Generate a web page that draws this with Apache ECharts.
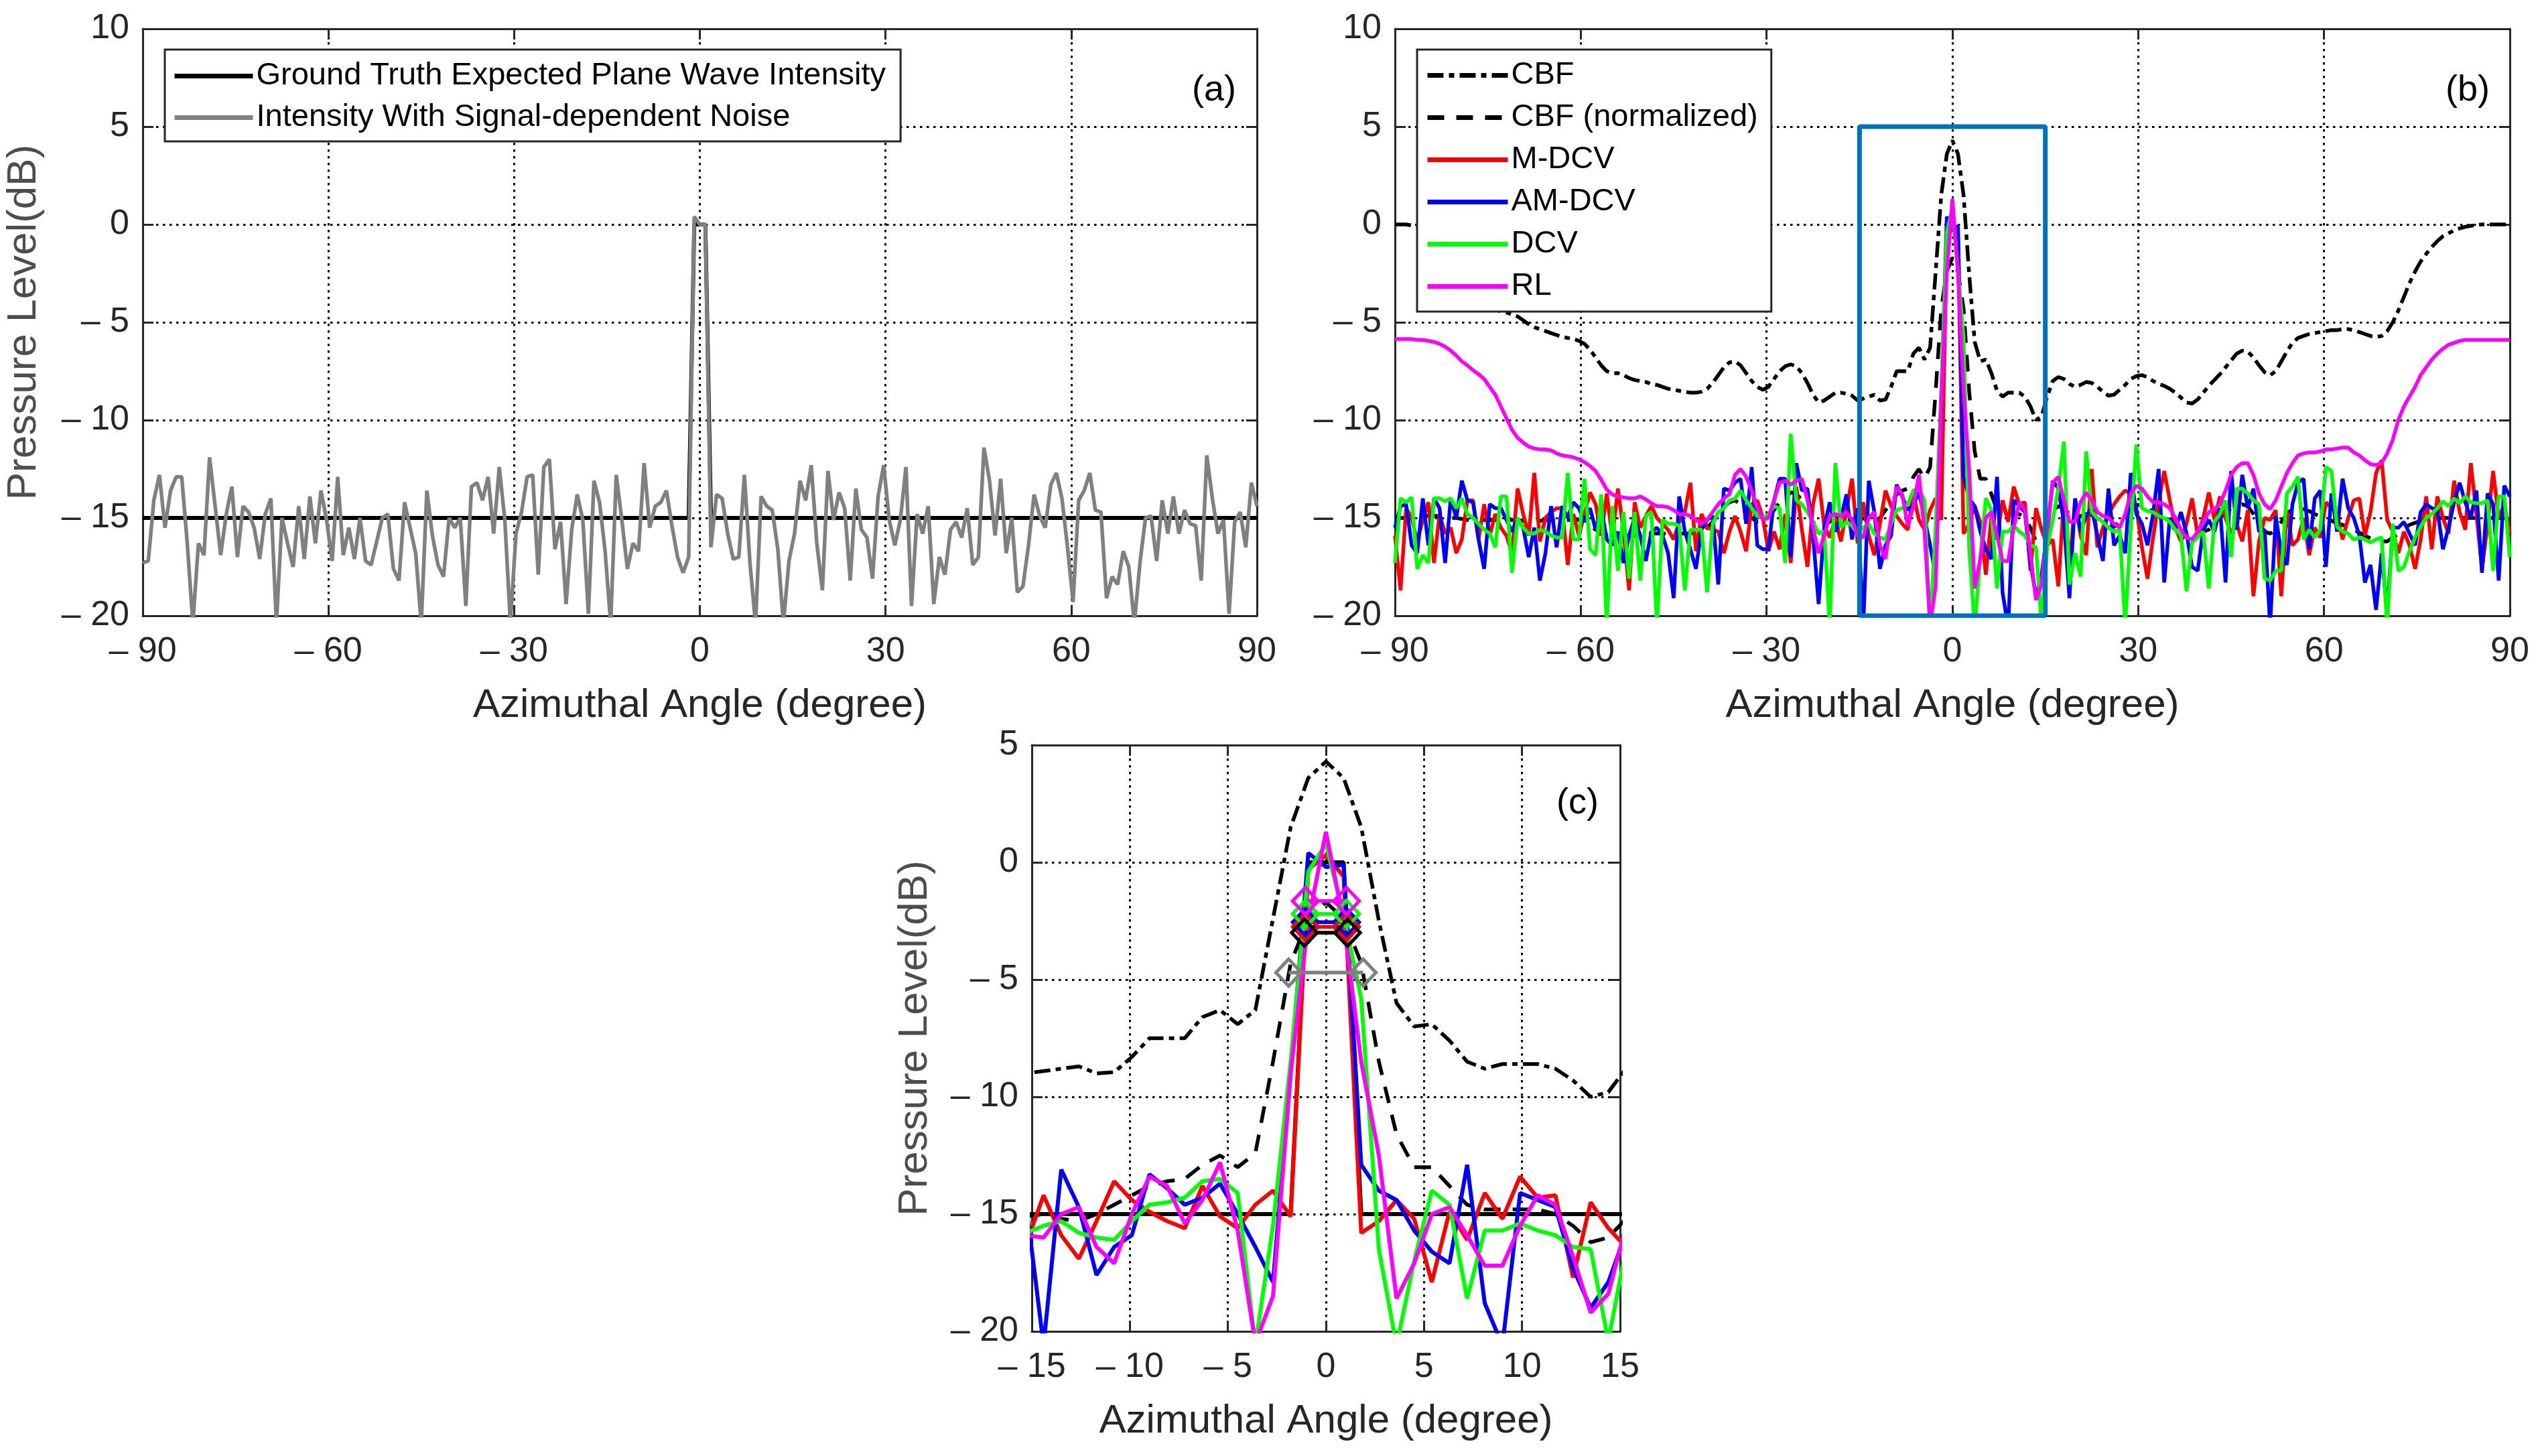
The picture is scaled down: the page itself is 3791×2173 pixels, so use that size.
<!DOCTYPE html>
<html>
<head>
<meta charset="utf-8">
<script src="https://cdn.jsdelivr.net/npm/echarts@6/dist/echarts.min.js"></script>
<style>
  html, body { margin: 0; padding: 0; background: #fff; }
  #main { width: 3791px; height: 2173px; }
</style>
</head>
<body>
<div id="main"></div>
<script>
// azimuth grid used by every series: -90 .. 90 in 0.9 degree steps (201 samples)
var angles = [];
for (var k = 0; k <= 200; k++) angles.push(+(-90 + 0.9 * k).toFixed(1));

// ground truth: -15 dB floor, 0 dB plane wave at broadside
var truthAngles = [-90, -1.8, -0.9, 0, 0.9, 1.8, 90];
var truthLevel = [-15, -15, 0, 0, 0, -15, -15];

// (a) intensity with signal-dependent noise
var noisyLevel = [
  -17.3, -17.2, -14.1, -12.8, -15.5, -13.6, -12.9, -12.9, -16.3, -20.4,
  -16.3, -16.9, -11.9, -14.4, -16.9, -14.8, -13.4, -17.0, -14.4, -14.7,
  -15.5, -17.1, -14.8, -14.0, -20.4, -15.0, -16.3, -17.5, -14.4, -17.1,
  -13.9, -16.3, -13.6, -15.1, -17.2, -12.9, -16.9, -15.5, -17.1, -15.0,
  -17.2, -17.4, -16.2, -15.0, -14.8, -17.6, -18.2, -14.2, -15.5, -16.8,
  -20.4, -13.6, -15.9, -17.4, -18.0, -15.0, -15.5, -15.0, -19.5, -13.4,
  -13.2, -14.1, -12.9, -15.8, -12.4, -15.1, -20.4, -15.8, -14.7, -12.9,
  -12.8, -17.9, -12.4, -12.0, -16.6, -15.2, -19.4, -15.6, -13.8, -15.1,
  -19.9, -13.1, -14.2, -16.7, -20.4, -12.8, -15.1, -17.6, -16.3, -16.7,
  -12.2, -15.5, -14.4, -14.2, -13.6, -15.4, -17.0, -17.8, -17.0, 0.4,
  0.0, 0.0, -16.5, -13.8, -14.0, -15.8, -17.1, -17.0, -12.8, -17.3,
  -20.4, -13.9, -14.4, -14.6, -16.6, -20.4, -17.2, -15.8, -13.1, -14.1,
  -12.3, -16.3, -18.7, -12.6, -15.1, -13.7, -14.5, -18.2, -13.5, -15.6,
  -16.0, -18.1, -13.9, -12.3, -15.1, -16.4, -15.1, -12.4, -19.5, -14.8,
  -15.8, -14.4, -19.4, -17.0, -17.9, -15.6, -15.2, -16.0, -14.5, -17.4,
  -17.0, -11.4, -13.1, -15.9, -13.0, -16.8, -15.0, -18.8, -18.5, -16.4,
  -13.8, -14.9, -15.5, -13.3, -12.7, -14.0, -16.5, -19.3, -14.1, -13.6,
  -12.7, -14.6, -14.7, -19.1, -18.0, -18.4, -16.7, -17.5, -20.4, -17.3,
  -15.0, -14.9, -17.2, -14.1, -15.8, -13.9, -15.8, -14.6, -15.3, -15.4,
  -18.2, -11.8, -14.0, -15.8, -15.1, -19.9, -15.2, -14.7, -16.5, -13.2,
  -14.4
];

// (b)/(c) conventional beamforming
var cbf = [
  0.0, 0.0, 0.0, -0.05, -0.1, -0.2, -0.35, -0.55, -0.8, -1.1,
  -1.5, -1.9, -2.4, -2.9, -3.3, -3.7, -4.0, -4.2, -4.35, -4.45,
  -4.5, -4.6, -4.7, -4.9, -5.1, -5.25, -5.35, -5.45, -5.55, -5.65,
  -5.75, -5.8, -5.85, -5.95, -6.1, -6.4, -6.8, -7.2, -7.5, -7.6,
  -7.6, -7.7, -7.85, -7.95, -8.0, -8.05, -8.15, -8.2, -8.3, -8.4,
  -8.45, -8.5, -8.55, -8.6, -8.6, -8.55, -8.4, -8.1, -7.7, -7.3,
  -7.05, -7.0, -7.2, -7.6, -8.0, -8.3, -8.45, -8.3, -7.9, -7.5,
  -7.25, -7.15, -7.25, -7.6, -8.1, -8.7, -9.1, -9.0, -8.8, -8.6,
  -8.6, -8.65, -8.75, -9.0, -8.9, -8.8, -8.7, -9.0, -8.95, -8.3,
  -7.5, -7.5, -7.5, -6.6, -6.3, -6.9, -6.3, -2.4, 1.5, 3.6,
  4.3, 3.6, 1.5, -2.5, -6.0, -7.0, -6.9, -7.6, -8.5, -8.8,
  -8.6, -8.6, -8.6, -8.8, -9.3, -10.0, -9.8, -8.8, -8.0, -7.8,
  -7.9, -8.15, -8.3, -8.2, -8.05, -8.1, -8.3, -8.55, -8.75, -8.7,
  -8.45, -8.2, -7.9, -7.75, -7.7, -7.8, -8.0, -8.15, -8.25, -8.4,
  -8.6, -8.85, -9.1, -9.15, -8.95, -8.6, -8.25, -7.95, -7.65, -7.3,
  -6.95, -6.6, -6.45, -6.5, -6.8, -7.2, -7.55, -7.7, -7.5, -7.0,
  -6.5, -6.05, -5.8, -5.7, -5.6, -5.55, -5.5, -5.45, -5.4, -5.4,
  -5.35, -5.35, -5.4, -5.5, -5.6, -5.7, -5.75, -5.7, -5.45, -5.0,
  -4.4, -3.7, -3.0, -2.4, -1.9, -1.5, -1.15, -0.85, -0.6, -0.45,
  -0.3, -0.2, -0.12, -0.07, -0.03, 0.0, 0.0, 0.0, 0.0, 0.0,
  0.0
];

var cbfNormalized = [
  -15.0, -15.0, -15.0, -15.0, -14.95, -14.9, -14.9, -14.9, -14.9, -14.95,
  -15.0, -15.0, -15.05, -15.1, -15.1, -15.1, -15.1, -15.1, -15.1, -15.1,
  -15.1, -15.1, -15.1, -15.15, -15.2, -15.2, -15.15, -15.1, -15.1, -15.1,
  -15.1, -15.1, -15.1, -15.1, -15.2, -15.4, -15.6, -15.8, -15.9, -15.9,
  -15.9, -15.9, -15.9, -15.9, -15.85, -15.8, -15.8, -15.8, -15.8, -15.8,
  -15.8, -15.8, -15.8, -15.8, -15.75, -15.7, -15.5, -15.2, -14.8, -14.4,
  -14.2, -14.1, -14.3, -14.7, -15.0, -15.2, -15.2, -15.0, -14.6, -14.2,
  -13.9, -13.7, -13.75, -14.1, -14.6, -15.2, -15.5, -15.4, -15.2, -15.0,
  -15.0, -15.0, -15.05, -15.1, -15.0, -15.2, -15.3, -15.0, -14.6, -14.2,
  -13.8, -13.6, -13.5, -12.9, -12.5, -13.0, -12.4, -8.5, -4.3, -2.4,
  -1.7, -2.4, -4.3, -8.5, -11.6, -13.0, -13.0, -13.8, -14.6, -14.8,
  -14.8, -14.8, -14.8, -15.0, -15.5, -16.2, -16.0, -15.2, -14.6, -14.4,
  -14.5, -14.8, -15.0, -14.9, -14.8, -14.85, -15.0, -15.3, -15.5, -15.45,
  -15.2, -14.9, -14.6, -14.35, -14.3, -14.45, -14.7, -14.9, -15.1, -15.3,
  -15.6, -15.9, -16.1, -16.1, -15.95, -15.7, -15.6, -15.3, -15.0, -14.75,
  -14.5, -14.35, -14.3, -14.4, -14.8, -15.3, -15.7, -15.8, -15.6, -15.2,
  -14.8, -14.55, -14.5, -14.55, -14.65, -14.8, -14.95, -15.05, -15.15, -15.25,
  -15.35, -15.5, -15.6, -15.75, -15.9, -16.05, -16.15, -16.2, -16.2, -16.0,
  -15.8, -15.55, -15.35, -15.25, -15.15, -15.1, -15.05, -15.0, -15.0, -15.0,
  -15.0, -15.0, -15.0, -15.0, -15.0, -15.0, -15.0, -15.0, -15.0, -15.0,
  -15.0
];

var mdcv = [
  -15.9, -18.7, -14.5, -15.0, -16.2, -15.1, -14.2, -17.3, -14.8, -15.8,
  -15.5, -16.8, -16.1, -14.1, -14.1, -16.1, -14.3, -15.9, -14.8, -15.5,
  -15.9, -16.8, -13.5, -14.8, -15.9, -12.7, -16.2, -15.0, -14.7, -14.5,
  -14.5, -17.4, -14.8, -15.9, -14.8, -13.7, -14.3, -15.9, -13.75, -16.0,
  -13.5, -15.7, -18.7, -14.2, -15.5, -14.9, -14.4, -15.0, -15.3, -15.6,
  -16.1, -15.2, -14.7, -13.2, -16.7, -14.8, -15.5, -15.6, -15.7, -16.8,
  -15.7, -14.9, -15.7, -16.7, -14.3, -14.1, -15.0, -16.7, -15.7, -16.6,
  -14.8, -17.3, -13.4, -15.6, -17.5, -14.3, -13.0, -15.4, -16.0, -15.0,
  -16.2, -14.6, -13.0, -16.3, -14.2, -15.9, -16.9, -15.3, -13.6, -14.4,
  -14.9, -15.3, -15.6, -13.8, -15.1, -15.6, -14.6, -14.0, -15.1, -0.3,
  0.3, -0.6, -15.8, -15.3, -14.4, -15.2, -17.9, -14.9, -16.1, -14.1,
  -15.2, -13.4, -14.3, -14.2, -17.7, -14.5, -15.6, -16.4, -16.1, -18.5,
  -14.0, -17.5, -14.1, -15.9, -16.9, -12.5, -16.5, -15.5, -14.8, -14.3,
  -13.9, -13.6, -13.75, -14.5, -16.5, -18.1, -16.0, -14.2, -12.6, -14.1,
  -15.5, -16.2, -15.3, -14.0, -15.9, -15.0, -13.7, -15.1, -13.9, -15.0,
  -15.8, -15.3, -16.2, -14.6, -19.0, -16.2, -15.0, -15.1, -14.6, -19.0,
  -14.6, -16.4, -16.1, -15.0, -16.9, -15.5, -16.0, -14.2, -14.5, -14.8,
  -16.1, -15.0, -14.1, -14.0, -15.9, -14.7, -12.7, -12.05, -15.1, -15.7,
  -16.8, -15.7, -16.4, -17.6, -16.1, -13.9, -16.6, -13.9, -15.0, -15.8,
  -13.1, -14.7, -15.6, -12.2, -14.8, -17.6, -15.4, -12.6, -15.0, -14.3,
  -15.8
];

var amdcv = [
  -15.5, -14.4, -14.3, -16.4, -16.8, -14.0, -16.4, -14.0, -14.5, -17.3,
  -14.0, -15.0, -13.1, -14.1, -14.2, -16.1, -17.6, -14.3, -14.5, -14.5,
  -15.1, -15.7, -15.0, -15.5, -17.0, -15.5, -18.2, -16.8, -14.4, -16.5,
  -14.4, -15.0, -14.2, -14.5, -15.2, -14.5, -15.6, -14.5, -16.1, -16.4,
  -15.7, -17.3, -15.9, -15.0, -15.9, -17.2, -15.7, -15.5, -15.9, -16.8,
  -19.1, -13.9, -15.7, -16.6, -17.6, -15.6, -15.1, -14.9, -18.4, -13.5,
  -13.6, -13.2, -13.0, -15.3, -12.4, -16.4, -16.6, -16.6, -14.1, -13.0,
  -13.0, -17.0, -12.2, -13.6, -13.5, -15.9, -19.4, -15.5, -14.2, -15.7,
  -15.0, -13.8, -16.1, -14.5, -20.6, -13.1, -14.7, -17.6, -16.4, -15.9,
  -13.3, -13.9, -14.6, -14.3, -13.7, -15.0, -16.4, -17.9, -9.0, 0.4,
  -0.2, -0.1, -12.9, -14.0, -14.4, -15.7, -16.6, -17.1, -12.9, -18.8,
  -20.6, -14.1, -14.4, -14.7, -17.3, -19.0, -17.9, -15.8, -13.1, -13.5,
  -15.2, -19.1, -14.0, -15.7, -14.9, -14.5, -15.9, -17.2, -13.5, -16.4,
  -15.9, -16.8, -12.7, -14.8, -15.3, -16.4, -14.8, -12.5, -18.3, -15.0,
  -15.6, -14.7, -15.8, -17.5, -17.7, -15.6, -15.1, -15.7, -14.5, -18.3,
  -12.6, -15.6, -12.8, -14.5, -13.5, -15.7, -15.6, -20.5, -14.9, -16.8,
  -17.4, -14.3, -13.2, -13.0, -16.6, -14.0, -13.6, -17.5, -13.75, -15.7,
  -13.0, -14.5, -15.0, -15.9, -18.3, -17.4, -19.7, -16.8, -19.8, -15.5,
  -15.5, -15.2, -15.8, -16.4, -14.7, -14.3, -14.5, -14.6, -16.6, -15.5,
  -14.2, -13.2, -14.2, -15.0, -13.6, -17.8, -13.75, -14.3, -18.2, -13.35,
  -13.9
];

var dcv = [
  -17.3, -14.0, -14.2, -13.95, -17.6, -16.9, -17.3, -14.0, -14.0, -14.15,
  -14.0, -14.5, -14.0, -14.8, -15.0, -15.3, -15.6, -15.8, -16.5, -13.9,
  -13.9, -17.8, -15.0, -15.5, -15.8, -15.8, -15.6, -15.7, -15.9, -16.0,
  -16.0, -12.7, -16.1, -16.1, -13.0, -16.6, -16.9, -13.8, -20.5, -14.4,
  -17.7, -14.7, -18.1, -14.7, -18.2, -14.9, -14.7, -20.5, -15.1, -15.3,
  -15.3, -15.4, -18.7, -15.6, -15.6, -15.6, -18.8, -15.3, -14.7, -14.5,
  -14.1, -14.0, -13.6, -14.1, -14.5, -14.9, -15.0, -14.8, -14.4, -14.5,
  -17.3, -10.7, -14.1, -14.3, -14.7, -15.2, -15.8, -15.7, -20.5, -12.2,
  -15.5, -15.2, -15.4, -15.8, -15.5, -15.3, -15.8, -16.0, -16.1, -15.3,
  -14.6, -14.5, -14.3, -13.6, -13.5, -14.1, -20.6, -15.5, -8.5, -0.4,
  0.8, -2.3, -5.8, -16.5, -20.6, -17.0, -14.0, -14.6, -18.6, -15.7,
  -15.7, -15.4, -15.7, -15.9, -16.4, -16.5, -20.4, -16.5, -15.1, -13.5,
  -11.1, -18.4, -16.8, -18.0, -11.6, -14.7, -15.0, -15.2, -15.5, -15.7,
  -15.6, -20.5, -15.5, -11.25, -14.5, -14.65, -14.7, -14.9, -15.0, -15.2,
  -15.6, -15.9, -18.75, -16.25, -16.0, -15.7, -18.6, -15.2, -14.8, -14.1,
  -17.0, -13.5, -13.5, -13.75, -14.1, -14.3, -18.1, -18.2, -17.7, -17.7,
  -13.75, -13.4, -12.9, -16.1, -15.6, -16.0, -15.6, -12.4, -12.6, -15.45,
  -15.7, -15.8, -16.1, -16.0, -16.1, -16.25, -16.1, -16.0, -20.5, -15.3,
  -17.7, -17.5, -16.7, -16.0, -15.45, -15.0, -14.8, -14.5, -14.15, -14.4,
  -14.0, -14.25, -13.9, -14.2, -14.25, -14.25, -14.1, -17.7, -13.9, -13.9,
  -17.0
];

var rl = [
  -5.86, -5.86, -5.86, -5.86, -5.9, -5.9, -5.95, -6.0, -6.1, -6.25,
  -6.45, -6.7, -7.0, -7.2, -7.45, -7.65, -7.9, -8.3, -8.7, -9.3,
  -9.9, -10.5, -10.9, -11.15, -11.35, -11.45, -11.5, -11.5, -11.55, -11.7,
  -11.8, -11.85, -11.9, -12.0, -12.15, -12.35, -12.6, -13.05, -13.55, -13.8,
  -13.9, -13.95, -14.0, -14.0, -13.9, -14.05, -14.25, -14.4, -14.4, -14.45,
  -14.6, -14.8, -14.8, -14.9, -15.1, -15.3, -15.1, -14.7, -14.3, -14.0,
  -13.8, -12.8, -12.5, -12.9, -13.6, -14.5, -15.1, -15.0, -14.1, -13.2,
  -13.1, -13.3, -13.1, -13.0, -14.1, -15.5, -16.8, -15.9, -14.9, -14.8,
  -14.9, -14.7, -15.1, -15.9, -16.0, -15.0, -14.7, -16.4, -17.1, -15.0,
  -13.4, -13.8, -15.4, -14.4, -12.8, -15.7, -20.5, -18.5, -9.0, -2.5,
  1.3, -2.5, -8.5, -12.5, -18.6, -17.1, -15.0, -14.7, -15.9, -17.2,
  -17.2, -15.5, -14.2, -14.6, -16.8, -19.2, -18.4, -15.5, -13.2, -12.9,
  -14.1, -15.2, -15.2, -14.2, -13.7, -14.1, -14.7, -14.9, -15.0, -15.3,
  -15.5, -14.8, -13.75, -13.35, -13.5, -13.9, -14.2, -14.2, -14.3, -14.5,
  -15.0, -15.6, -16.0, -16.1, -15.7, -15.2, -14.7, -14.55, -14.3, -13.6,
  -12.8, -12.4, -12.2, -12.2, -12.8, -13.75, -14.3, -14.55, -14.1, -13.4,
  -12.7, -12.2, -11.8, -11.7, -11.65, -11.65, -11.6, -11.5, -11.5, -11.45,
  -11.4, -11.4, -11.65, -11.8, -12.05, -12.25, -12.3, -12.2, -11.7, -11.0,
  -10.0, -9.3, -8.8, -8.3, -7.7, -7.3, -6.9, -6.6, -6.35, -6.15,
  -6.05, -5.95, -5.9, -5.9, -5.9, -5.9, -5.9, -5.9, -5.9, -5.9,
  -5.9
];

// zoom window drawn in (b)
var boxAngles = [-15, -15, 15, 15, -15];
var boxLevels = [-20, 5, 5, -20, -20];

// (c) -3 dB width markers
var fwhmCbf = [[-1.9, -4.7], [1.9, -4.7]];
var fwhmAmdcv = [[-1.05, -2.55], [1.05, -2.55]];
var fwhmMdcv = [[-1.05, -2.75], [1.05, -2.75]];
var fwhmDcv = [[-1.05, -2.2], [1.05, -2.2]];
var fwhmRl = [[-1.05, -1.65], [1.05, -1.65]];
var fwhmTruth = [[-1.1, -3.0], [1.1, -3.0]];

var FONT = '"Liberation Sans", Arial, Helvetica, sans-serif';
var INK = '#262626';

function zip(xs, ys) {
  return xs.map(function (x, i) { return [x, ys[i]]; });
}

function tickText(v) {
  return v < 0 ? '\u2013 ' + (-v) : String(v);
}

function xAxes(gi, min, max, step, withName) {
  var base = {
    gridIndex: gi, type: 'value', min: min, max: max, interval: step,
    axisLine: { show: true, onZero: false, lineStyle: { color: INK, width: 3 } },
    axisTick: { show: true, inside: true, length: 16, lineStyle: { color: INK, width: 3 } }
  };
  var bottom = Object.assign({}, base, {
    position: 'bottom',
    name: withName ? 'Azimuthal Angle (degree)' : '',
    nameLocation: 'middle', nameGap: 104,
    nameTextStyle: { fontFamily: FONT, fontSize: 60, lineHeight: 60, color: INK },
    axisLabel: { margin: 28, fontFamily: FONT, fontSize: 52, color: INK, formatter: tickText },
    splitLine: { show: true, lineStyle: { color: '#000', width: 3, type: [3.5, 6.5] } }
  });
  var top = Object.assign({}, base, {
    position: 'top', axisLabel: { show: false }, splitLine: { show: false }
  });
  return [bottom, top];
}

function yAxes(gi, min, max, step, name, gap) {
  var base = {
    gridIndex: gi, type: 'value', min: min, max: max, interval: step,
    axisLine: { show: true, onZero: false, lineStyle: { color: INK, width: 3 } },
    axisTick: { show: true, inside: true, length: 16, lineStyle: { color: INK, width: 3 } }
  };
  var left = Object.assign({}, base, {
    position: 'left',
    name: name, nameLocation: 'middle', nameGap: gap,
    nameTextStyle: { fontFamily: FONT, fontSize: 62, lineHeight: 62, color: '#4d4d4d' },
    axisLabel: { margin: 20, fontFamily: FONT, fontSize: 52, color: INK, formatter: tickText },
    splitLine: { show: true, lineStyle: { color: '#000', width: 3, type: [3.5, 6.5] } }
  });
  var right = Object.assign({}, base, {
    position: 'right', axisLabel: { show: false }, splitLine: { show: false }
  });
  return [left, right];
}

function line(name, xi, yi, data, color, width, dash, z) {
  return {
    name: name, type: 'line', xAxisIndex: xi, yAxisIndex: yi, data: data,
    symbol: 'none', clip: true, silent: true, z: z || 2,
    lineStyle: { color: color, width: width, type: dash || 'solid' },
    itemStyle: { color: color }
  };
}

function marker(name, data, color) {
  return {
    name: name, type: 'line', xAxisIndex: 4, yAxisIndex: 4, data: data,
    symbol: 'diamond', symbolSize: [38, 40], showSymbol: true, clip: false, silent: true, z: 10,
    lineStyle: { color: color, width: 5.5 },
    itemStyle: { color: 'transparent', borderColor: color, borderWidth: 5 }
  };
}

var DASHDOT = [24, 8, 8, 8];
var DASHED = [25, 18];
var W = 5.5;

var chart = echarts.init(document.getElementById('main'), null, { renderer: 'canvas' });

var xa = xAxes(0, -90, 90, 30, true);
var xb = xAxes(1, -90, 90, 30, true);
var xc = xAxes(2, -15, 15, 5, true);
var ya = yAxes(0, -20, 10, 5, 'Pressure Level(dB)', 146);
var yb = yAxes(1, -20, 10, 5, '', 0);
var yc = yAxes(2, -20, 5, 5, 'Pressure Level(dB)', 143);

var legendText = { fontFamily: FONT, fontSize: 47, lineHeight: 47, color: '#000' };
var noSymbol = { color: 'transparent', borderColor: 'transparent', borderWidth: 0 };

chart.setOption({
  animation: false,
  backgroundColor: '#fff',
  grid: [
    { left: 213, top: 43, width: 1663, height: 876 },
    { left: 2082, top: 43, width: 1664, height: 876 },
    { left: 1540, top: 1112, width: 878, height: 875 }
  ],
  xAxis: xa.concat(xb, xc),
  yAxis: ya.concat(yb, yc),
  legend: [
    {
      orient: 'vertical', left: 246, top: 74, padding: [16, 22, 12, 11],
      itemWidth: 117, itemHeight: 47, itemGap: 15,
      borderColor: INK, borderWidth: 3, backgroundColor: '#fff',
      textStyle: legendText, lineStyle: { width: 7 }, itemStyle: noSymbol, selectedMode: false,
      data: ['Ground Truth Expected Plane Wave Intensity', 'Intensity With Signal-dependent Noise']
    },
    {
      orient: 'vertical', left: 2115, top: 74, padding: [15, 20, 14, 12],
      itemWidth: 120, itemHeight: 47, itemGap: 16,
      borderColor: INK, borderWidth: 3, backgroundColor: '#fff',
      textStyle: legendText, lineStyle: { width: 7 }, itemStyle: noSymbol, selectedMode: false,
      data: ['CBF', 'CBF (normalized)', 'M-DCV', 'AM-DCV', 'DCV', 'RL']
    }
  ],
  graphic: [
    { type: 'text', left: 1779, top: 108, style: { text: '(a)', font: '54px ' + FONT, fill: '#000' } },
    { type: 'text', left: 3650, top: 108, style: { text: '(b)', font: '54px ' + FONT, fill: '#000' } },
    { type: 'text', left: 2323, top: 1172, style: { text: '(c)', font: '54px ' + FONT, fill: '#000' } }
  ],
  series: [
    // (a)
    line('Ground Truth Expected Plane Wave Intensity', 0, 0, zip(truthAngles, truthLevel), '#000', 6),
    line('Intensity With Signal-dependent Noise', 0, 0, zip(angles, noisyLevel), '#808080', W),
    // (b)
    line('CBF', 2, 2, zip(angles, cbf), '#000', W, DASHDOT),
    line('CBF (normalized)', 2, 2, zip(angles, cbfNormalized), '#000', W, DASHED),
    line('M-DCV', 2, 2, zip(angles, mdcv), '#FF0000', W),
    line('AM-DCV', 2, 2, zip(angles, amdcv), '#0000FF', W),
    line('DCV', 2, 2, zip(angles, dcv), '#00FF00', W),
    line('RL', 2, 2, zip(angles, rl), '#FF00FF', W),
    line('zoom window', 2, 2, zip(boxAngles, boxLevels), '#0072BD', 7, null, 5),
    // (c)
    line('truth (c)', 4, 4, zip(truthAngles, truthLevel), '#000', 6),
    line('CBF (c)', 4, 4, zip(angles, cbf), '#000', W, DASHDOT),
    line('CBF normalized (c)', 4, 4, zip(angles, cbfNormalized), '#000', W, DASHED),
    line('M-DCV (c)', 4, 4, zip(angles, mdcv), '#FF0000', 6),
    line('AM-DCV (c)', 4, 4, zip(angles, amdcv), '#0000FF', 6),
    line('DCV (c)', 4, 4, zip(angles, dcv), '#00FF00', 6),
    line('RL (c)', 4, 4, zip(angles, rl), '#FF00FF', 6),
    marker('width CBF', fwhmCbf, '#808080'),
    marker('width AM-DCV', fwhmAmdcv, '#0000FF'),
    marker('width M-DCV', fwhmMdcv, '#FF0000'),
    marker('width DCV', fwhmDcv, '#00FF00'),
    marker('width RL', fwhmRl, '#FF00FF'),
    marker('width truth', fwhmTruth, '#000')
  ]
});
</script>
</body>
</html>
